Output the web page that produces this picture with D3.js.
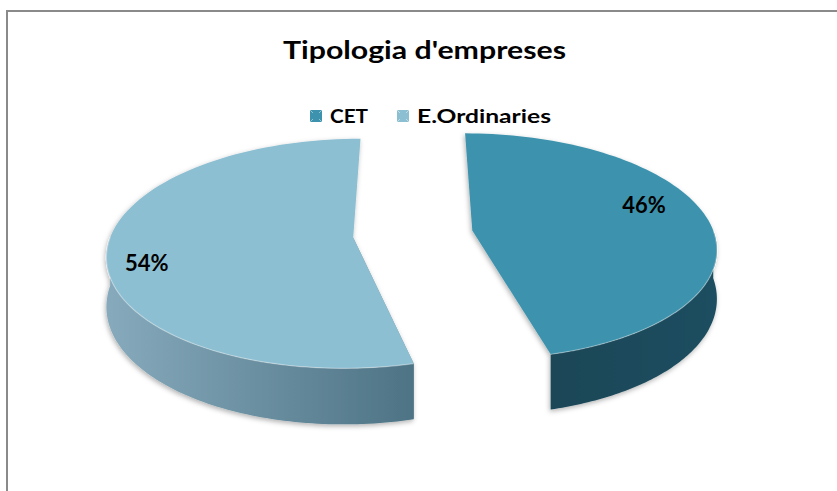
<!DOCTYPE html>
<html>
<head>
<meta charset="utf-8">
<script src="https://cdn.jsdelivr.net/npm/d3@7/dist/d3.min.js"></script>
<style>
  html, body { margin: 0; padding: 0; background: #fff; }
  svg { display: block; }
  text { font-family: Lato, "Open Sans", sans-serif; font-weight: bold; fill: #000; }
</style>
</head>
<body>
<svg id="chart" width="837" height="491"></svg>
<script>
// Chart data
const title = "Tipologia d'empreses";
const categories = ["CET", "E.Ordinaries"];
const values = [46, 54];
const valueLabels = ["46%", "54%"];

// Appearance
const topColors = ["#3d93ad", "#8dbfd3"];
const sideStops = [["#1b4657", "#1f4e60"], ["#86aabb", "#4d7384"]];
const faceColors = ["#1c495a", "#7d949e"];
const swatchColors = ["#3d93ad", "#8dbfd3"];

const svg = d3.select("#chart");

// 3D pie geometry (screen px)
const CAM_X = 413, CY = 234;     // projection centre of the top plane
const RX = 242, A = 111.6;       // horizontal radius, depth radius
const U = 0.139;                 // perspective strength
const DEPTH = 48;                // slice thickness
const EXPLODE = 0.248;           // explosion distance (fraction of radius)

function project(xw, zw, h) {
  const p = 1 / (1 - zw * U);
  return [CAM_X + xw * RX * p, CY + (zw * A + h) * p];
}

// Frame
svg.append("rect")
  .attr("x", 7).attr("y", 11).attr("width", 860).attr("height", 520)
  .attr("fill", "none").attr("stroke", "#8a8a8a").attr("stroke-width", 2);

const defs = svg.append("defs");
const shadow = defs.append("filter").attr("id", "shadow")
  .attr("x", "-10%").attr("y", "-10%").attr("width", "120%").attr("height", "130%");
shadow.append("feDropShadow")
  .attr("dx", -1).attr("dy", 2).attr("stdDeviation", 2.5)
  .attr("flood-color", "#000").attr("flood-opacity", 0.3);

// Title
svg.append("text")
  .attr("x", 424.5).attr("y", 59)
  .attr("text-anchor", "middle")
  .attr("textLength", 283).attr("lengthAdjust", "spacingAndGlyphs")
  .style("font-size", "24px")
  .text(title);

// Pie layout
const pie = d3.pie().sort(null).startAngle(0).endAngle(2 * Math.PI);
const arcs = pie(values);
const line = d3.line();

const gPie = svg.append("g").attr("filter", "url(#shadow)");

arcs.forEach((d, i) => {
  const mid = (d.startAngle + d.endAngle) / 2;
  const ox = Math.sin(mid) * EXPLODE;
  const oz = -Math.cos(mid) * EXPLODE;
  const rim = (t, h) => project(ox + Math.sin(t), oz - Math.cos(t), h);
  const ctr = h => project(ox, oz, h);
  const steps = a => d3.range(0, 1.0001, 1 / 90).map(f => a[0] + (a[1] - a[0]) * f);

  const gSlice = gPie.append("g").attr("class", "slice");

  // front half of the outer wall
  const a0 = Math.max(d.startAngle, Math.PI / 2);
  const a1 = Math.min(d.endAngle, 1.5 * Math.PI);

  // side gradient runs across the visible wall
  const xa = rim(a0, 0)[0], xb = rim(a1, 0)[0];
  const gradId = "side" + i;
  const gr = defs.append("linearGradient").attr("id", gradId)
    .attr("gradientUnits", "userSpaceOnUse")
    .attr("x1", Math.min(xa, xb)).attr("x2", Math.max(xa, xb))
    .attr("y1", 0).attr("y2", 0);
  gr.append("stop").attr("offset", "0%").attr("stop-color", sideStops[i][0]);
  gr.append("stop").attr("offset", "100%").attr("stop-color", sideStops[i][1]);

  // radial faces: keep the ones that face the viewer
  const faces = [
    [ctr(0), rim(d.endAngle, 0), rim(d.endAngle, DEPTH), ctr(DEPTH)],
    [ctr(DEPTH), rim(d.startAngle, DEPTH), rim(d.startAngle, 0), ctr(0)]
  ];
  faces.forEach(f => {
    if (d3.polygonArea(f) > 0) {
      gSlice.append("path").attr("d", line(f) + "Z")
        .attr("fill", faceColors[i]);
    }
  });

  if (a1 > a0) {
    const ts = steps([a0, a1]);
    const pts = ts.map(t => rim(t, 0)).concat(ts.slice().reverse().map(t => rim(t, DEPTH)));
    gSlice.append("path").attr("d", line(pts) + "Z")
      .attr("fill", `url(#${gradId})`);
  }

  // top face
  const topPts = [ctr(0)].concat(steps([d.startAngle, d.endAngle]).map(t => rim(t, 0)));
  gSlice.append("path").attr("d", line(topPts) + "Z")
    .attr("fill", topColors[i]);

  // light edge along the front rim of the top face
  if (a1 > a0) {
    gSlice.append("path")
      .attr("d", line(steps([a0, a1]).map(t => rim(t, 0))))
      .attr("fill", "none").attr("stroke", "#ffffff").attr("stroke-opacity", 0.35)
      .attr("stroke-width", 1.2);
  }
});

// Value labels
const labelPlace = [{ shift: -0.18, r: 0.78 }, { shift: -0.14, r: 0.845 }];
arcs.forEach((d, i) => {
  const mid = (d.startAngle + d.endAngle) / 2;
  const ox = Math.sin(mid) * EXPLODE, oz = -Math.cos(mid) * EXPLODE;
  const t = mid + labelPlace[i].shift, r = labelPlace[i].r;
  const [x, y] = project(ox + r * Math.sin(t), oz - r * Math.cos(t), 0);
  svg.append("text")
    .attr("x", x).attr("y", y)
    .attr("text-anchor", "middle").attr("dy", "0.35em")
    .style("font-size", "22px")
    .text(valueLabels[i]);
});

// Legend
const legendWidths = [38, 134];
const legend = svg.append("g").attr("class", "legend");
let lx = 310;
categories.forEach((c, i) => {
  const g = legend.append("g").attr("transform", `translate(${lx},110)`);
  g.append("rect").attr("width", 12).attr("height", 12).attr("fill", swatchColors[i]);
  g.append("path").attr("d", "M0,0L12,12M12,0L0,12")
    .attr("stroke", "#fff").attr("stroke-opacity", 0.45).attr("stroke-width", 1);
  g.append("rect").attr("x", 3).attr("y", 3).attr("width", 6).attr("height", 6)
    .attr("fill", swatchColors[i]);
  g.append("text").attr("x", 20).attr("y", 13)
    .attr("textLength", legendWidths[i]).attr("lengthAdjust", "spacingAndGlyphs")
    .style("font-size", "18px").text(c);
  lx += 20 + legendWidths[i] + 29;
});
</script>
</body>
</html>
